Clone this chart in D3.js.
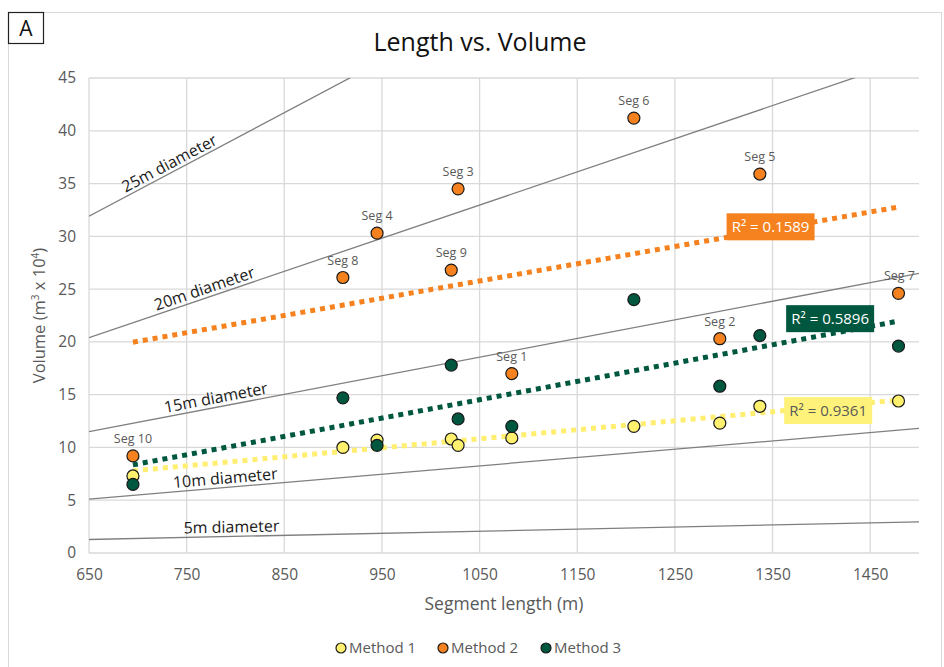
<!DOCTYPE html>
<html lang="en">
<head>
<meta charset="UTF-8">
<title>Length vs. Volume</title>
<script src="https://d3js.org/d3.v7.min.js"></script>
<style>
  * { margin: 0; padding: 0; box-sizing: border-box; }
  body { background: #fff; font-family: "Open Sans", "Noto Sans", sans-serif; }
  svg text { font-family: "Open Sans", "Noto Sans", sans-serif; }
</style>
</head>
<body>
<div id="chart"></div>
<script>
// segment data (length in m, volume in m3 x 10^4)
const segments = ["Seg 10", "Seg 8", "Seg 4", "Seg 9", "Seg 3", "Seg 1", "Seg 6", "Seg 2", "Seg 5", "Seg 7"];
const lengths  = [695, 910, 945, 1021, 1028, 1083, 1208, 1296, 1337, 1479];
const method1  = [7.3, 10.0, 10.7, 10.8, 10.2, 10.9, 12.0, 12.3, 13.9, 14.4];
const method2  = [9.2, 26.1, 30.3, 26.8, 34.5, 17.0, 41.2, 20.3, 35.9, 24.6];
const method3  = [6.5, 14.7, 10.2, 17.8, 12.7, 12.0, 24.0, 15.8, 20.6, 19.6];
const rSquared = ["0.9361", "0.1589", "0.5896"];
// where each R² box sits (length, volume)
const r2Len = [1407, 1348, 1409];
const r2Vol = [13.5, 30.9, 22.2];

// reference diameter lines: volume at 650 m and at 1500 m
const diameters   = ["5m diameter", "10m diameter", "15m diameter", "20m diameter", "25m diameter"];
const diamStart   = [1.28, 5.1, 11.5, 20.4, 31.9];
const diamEnd     = [2.95, 11.8, 26.5, 47.1, 73.6];
const diamLabelAt = [796, 790, 781, 770, 735];

const xTicks = [650, 750, 850, 950, 1050, 1150, 1250, 1350, 1450];
const yTicks = [0, 5, 10, 15, 20, 25, 30, 35, 40, 45];

const width = 944, height = 667;
const margin = { left: 89, right: 25, top: 78, bottom: 114 };

const svg = d3.select("#chart").append("svg")
    .attr("width", width)
    .attr("height", height);

// outer frame
svg.append("rect")
    .attr("x", 8.5).attr("y", 12.5)
    .attr("width", 933).attr("height", 670)
    .attr("fill", "none").attr("stroke", "#d9d9d9");

// panel letter
svg.append("rect")
    .attr("x", 8.5).attr("y", 12.5)
    .attr("width", 35).attr("height", 31)
    .attr("fill", "#fff").attr("stroke", "#222").attr("stroke-width", 1.2);
svg.append("text")
    .attr("x", 26).attr("y", 36)
    .attr("text-anchor", "middle")
    .attr("font-size", 21).attr("fill", "#111")
    .text("A");

const x = d3.scaleLinear().domain([650, 1500]).range([margin.left, width - margin.right]);
const y = d3.scaleLinear().domain([0, 45]).range([height - margin.bottom, margin.top]);

svg.append("text")
    .attr("x", 480).attr("y", 51)
    .attr("text-anchor", "middle")
    .attr("font-size", 25).attr("fill", "#111")
    .text("Length vs. Volume");

// grid
const grid = svg.append("g");
grid.selectAll(".hg").data(yTicks).enter().append("line")
    .attr("x1", x(650)).attr("x2", x(1500))
    .attr("y1", d => y(d)).attr("y2", d => y(d))
    .attr("stroke", "#d9d9d9").attr("stroke-width", 1.3);
grid.selectAll(".vg").data(xTicks).enter().append("line")
    .attr("x1", d => x(d)).attr("x2", d => x(d))
    .attr("y1", y(0)).attr("y2", y(45))
    .attr("stroke", "#d9d9d9").attr("stroke-width", 1.3);

// axes
const xAxis = svg.append("g")
    .attr("transform", `translate(0,${y(0)})`)
    .call(d3.axisBottom(x).tickValues(xTicks).tickFormat(d3.format("d")).tickSize(0).tickPadding(16));
const yAxis = svg.append("g")
    .attr("transform", `translate(${x(650)},0)`)
    .call(d3.axisLeft(y).tickValues(yTicks).tickSize(0).tickPadding(13));
[xAxis, yAxis].forEach(a => {
    a.select(".domain").remove();
    a.selectAll("text").attr("font-size", 15.5).attr("fill", "#595959")
        .attr("font-family", "'Open Sans', sans-serif");
});

svg.append("text")
    .attr("x", 504).attr("y", 610)
    .attr("text-anchor", "middle")
    .attr("font-size", 17.5).attr("fill", "#595959")
    .text("Segment length (m)");

const yl = svg.append("text")
    .attr("transform", `translate(45,${(y(0) + y(45)) / 2}) rotate(-90)`)
    .attr("text-anchor", "middle")
    .attr("font-size", 16.5).attr("fill", "#595959");
yl.append("tspan").text("Volume (m");
yl.append("tspan").attr("font-size", 10).attr("dy", -6).text("3");
yl.append("tspan").attr("dy", 6).text(" x 10");
yl.append("tspan").attr("font-size", 10).attr("dy", -6).text("4");
yl.append("tspan").attr("dy", 6).text(")");

// clip for diameter lines
svg.append("clipPath").attr("id", "plotClip").append("rect")
    .attr("x", x(650)).attr("y", y(45))
    .attr("width", x(1500) - x(650)).attr("height", y(0) - y(45));

const diamG = svg.append("g").attr("clip-path", "url(#plotClip)");
diameters.forEach((d, i) => {
    diamG.append("line")
        .attr("x1", x(650)).attr("y1", y(diamStart[i]))
        .attr("x2", x(1500)).attr("y2", y(diamEnd[i]))
        .attr("stroke", "#7f7f7f").attr("stroke-width", 1.3);
});
diameters.forEach((d, i) => {
    const lx = diamLabelAt[i];
    const t = (lx - 650) / 850;
    const v = diamStart[i] + t * (diamEnd[i] - diamStart[i]);
    const ang = Math.atan2(y(diamEnd[i]) - y(diamStart[i]), x(1500) - x(650)) * 180 / Math.PI;
    svg.append("text")
        .attr("transform", `translate(${x(lx)},${y(v) - 4}) rotate(${ang})`)
        .attr("text-anchor", "middle")
        .attr("font-size", 16).attr("fill", "#1a1a1a")
        .text(d);
});

// series
const series = [
    { name: "Method 1", values: method1, fill: "#FFF06E", trend: "#FFEE70", r2: rSquared[0], boxFill: "#FFF27A", boxText: "#595959" },
    { name: "Method 2", values: method2, fill: "#F5821F", trend: "#F5821F", r2: rSquared[1], boxFill: "#F5821F", boxText: "#fff" },
    { name: "Method 3", values: method3, fill: "#00573F", trend: "#00573F", r2: rSquared[2], boxFill: "#00573F", boxText: "#fff" }
];

function linReg(xs, ys) {
    const mx = d3.mean(xs), my = d3.mean(ys);
    const sxy = d3.sum(xs, (v, i) => (v - mx) * (ys[i] - my));
    const sxx = d3.sum(xs, v => (v - mx) * (v - mx));
    const b = sxy / sxx;
    return v => my + b * (v - mx);
}

// trendlines
series.forEach(s => {
    const f = linReg(lengths, s.values);
    const x0 = d3.min(lengths), x1 = d3.max(lengths);
    svg.append("line")
        .attr("x1", x(x0)).attr("y1", y(f(x0)))
        .attr("x2", x(x1)).attr("y2", y(f(x1)))
        .attr("stroke", s.trend).attr("stroke-width", 5)
        .attr("stroke-dasharray", "5,5");
});

// points
series.forEach(s => {
    svg.append("g").selectAll("circle")
        .data(lengths).enter().append("circle")
        .attr("cx", d => x(d))
        .attr("cy", (d, i) => y(s.values[i]))
        .attr("r", 6)
        .attr("fill", s.fill)
        .attr("stroke", "#1a1a1a").attr("stroke-width", 1.2);
});

// segment labels above Method 2 points
svg.append("g").selectAll("text")
    .data(segments).enter().append("text")
    .attr("x", (d, i) => x(lengths[i]) + (i === 9 ? 1 : 0))
    .attr("y", (d, i) => y(method2[i]) - 13)
    .attr("text-anchor", "middle")
    .attr("font-size", 12.5).attr("fill", "#595959")
    .text(d => d);

// R^2 label boxes
series.forEach((s, k) => {
    const cx = x(r2Len[k]);
    const cy = y(r2Vol[k]);
    const g = svg.append("g");
    g.append("rect")
        .attr("x", cx - 44).attr("y", cy - 13.5)
        .attr("width", 88).attr("height", 27)
        .attr("fill", s.boxFill);
    g.append("text")
        .attr("x", cx).attr("y", cy + 5.5)
        .attr("text-anchor", "middle")
        .attr("font-size", 15).attr("fill", s.boxText)
        .text("R² = " + s.r2);
});

// legend
const legend = svg.append("g").attr("transform", "translate(0,648)");
const legX = [341, 443, 546];
series.forEach((s, i) => {
    legend.append("circle")
        .attr("cx", legX[i]).attr("cy", 0).attr("r", 5)
        .attr("fill", s.fill).attr("stroke", "#1a1a1a").attr("stroke-width", 1.2);
    legend.append("text")
        .attr("x", legX[i] + 8).attr("y", 5)
        .attr("font-size", 15).attr("fill", "#595959")
        .text(s.name);
});
</script>
</body>
</html>
